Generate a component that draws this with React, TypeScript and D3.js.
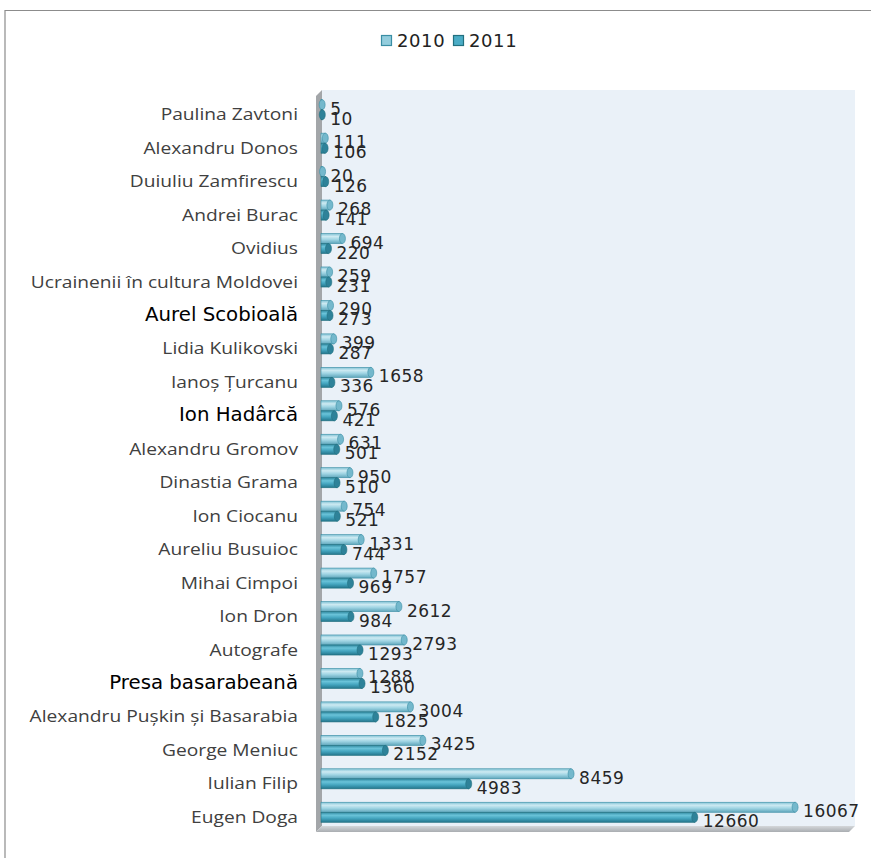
import React from 'react';
import * as d3 from 'd3';

const categories = [
  'Paulina Zavtoni', 'Alexandru Donos', 'Duiuliu Zamfirescu', 'Andrei Burac', 'Ovidius',
  'Ucrainenii în cultura Moldovei', 'Aurel Scobioală', 'Lidia Kulikovski', 'Ianoș Țurcanu',
  'Ion Hadârcă', 'Alexandru Gromov', 'Dinastia Grama', 'Ion Ciocanu', 'Aureliu Busuioc',
  'Mihai Cimpoi', 'Ion Dron', 'Autografe', 'Presa basarabeană', 'Alexandru Pușkin și Basarabia',
  'George Meniuc', 'Iulian Filip', 'Eugen Doga'
];
// labels that the original sheet shows in a different (heavier) font
const boldCategories = ['Aurel Scobioală', 'Ion Hadârcă', 'Presa basarabeană'];

const values2010 = [5, 111, 20, 268, 694, 259, 290, 399, 1658, 576, 631, 950, 754, 1331, 1757, 2612, 2793, 1288, 3004, 3425, 8459, 16067];
const values2011 = [10, 106, 126, 141, 220, 231, 273, 287, 336, 421, 501, 510, 521, 744, 969, 984, 1293, 1360, 1825, 2152, 4983, 12660];

const seriesNames = ['2010', '2011'];
const xMax = 18000;

const W = 871;
const H = 858;
const depth = 6;
const wall = { left: 322, right: 855, top: 90, bottom: 826 };

export default function App() {
  const x = d3.scaleLinear().domain([0, xMax]).range([wall.left, wall.right - depth / 2]);
  const y = d3.scaleBand<string>()
    .domain(categories)
    .range([wall.top + depth / 2, wall.bottom + depth / 2])
    .paddingInner(0.4)
    .paddingOuter(0.2);
  const barH = y.bandwidth() / 2;
  const series = [values2010, values2011];
  const grads = ['g2010', 'g2011'];
  const capFill = ['#74b8cc', '#2e8299'];
  const stroke = ['#3a8ea4', '#22707f'];

  return (
    <svg width={W} height={H} style={{ position: 'absolute', left: 0, top: 0, background: '#fff' }}>
      <defs>
        <linearGradient id="g2010" x1="0" y1="0" x2="0" y2="1">
          <stop offset="0" stopColor="#7fc1d4" />
          <stop offset="0.3" stopColor="#cdeaf2" />
          <stop offset="0.6" stopColor="#9fd4e3" />
          <stop offset="1" stopColor="#5fa6bb" />
        </linearGradient>
        <linearGradient id="g2011" x1="0" y1="0" x2="0" y2="1">
          <stop offset="0" stopColor="#318aa1" />
          <stop offset="0.3" stopColor="#6ac3d9" />
          <stop offset="0.6" stopColor="#45a6c0" />
          <stop offset="1" stopColor="#23758b" />
        </linearGradient>
        <linearGradient id="floor" x1="0" y1="0" x2="0" y2="1">
          <stop offset="0" stopColor="#d4d7da" />
          <stop offset="1" stopColor="#a9adb1" />
        </linearGradient>
      </defs>

      {/* outer frame */}
      <path d={`M5,${H}V10.5H${W}`} fill="none" stroke="#8c8c8c" strokeWidth={1.2} />

      {/* legend */}
      <g fontFamily="DejaVu Sans" fontSize={18} fill="#222" letterSpacing={0.6}>
        {seriesNames.map((s, i) => (
          <g key={s} transform={`translate(${381 + i * 72},35)`}>
            <rect x={0.5} y={0.5} width={10} height={10} fill={i === 0 ? '#93cddd' : '#4bacc6'} stroke={stroke[i]} strokeWidth={1.2} />
            <text x={16} y={12}>{s}</text>
          </g>
        ))}
      </g>

      {/* 3D walls */}
      <rect x={wall.left} y={wall.top} width={wall.right - wall.left} height={wall.bottom - wall.top} fill="#eaf1f8" />
      <polygon
        points={`${wall.left - depth},${wall.top + depth} ${wall.left},${wall.top} ${wall.left},${wall.bottom} ${wall.left - depth},${wall.bottom + depth}`}
        fill="#a3a6a9"
      />
      <polygon
        points={`${wall.left},${wall.bottom} ${wall.right},${wall.bottom} ${wall.right - depth},${wall.bottom + depth} ${wall.left - depth},${wall.bottom + depth}`}
        fill="url(#floor)"
      />

      {/* category labels */}
      <g textAnchor="end">
        {categories.map(c => {
          const bold = boldCategories.includes(c);
          const cy = (y(c) ?? 0) + y.bandwidth() / 2 + 4;
          return (
            <text
              key={c}
              transform={`translate(298,${cy}) scale(${bold ? 1.04 : 1.13},1)`}
              dominantBaseline="central"
              fontFamily={bold ? 'DejaVu Sans' : 'Open Sans'}
              fontSize={bold ? 19 : 17}
              fill={bold ? '#000' : '#404040'}
            >
              {c}
            </text>
          );
        })}
      </g>

      {/* bars as cylinders */}
      {series.map((vals, si) => (
        <g key={si}>
          {categories.map((c, ci) => {
            const y0 = (y(c) ?? 0) + si * barH;
            const x1 = x(vals[ci]);
            const w = Math.max(0, x1 - wall.left);
            return (
              <g key={c}>
                <rect x={wall.left - 1} y={y0} width={w + 1} height={barH} fill={`url(#${grads[si]})`} stroke={stroke[si]} strokeWidth={0.6} />
                <ellipse cx={x1} cy={y0 + barH / 2} rx={3} ry={barH / 2} fill={capFill[si]} stroke={stroke[si]} strokeWidth={0.6} />
              </g>
            );
          })}
        </g>
      ))}

      {/* value labels */}
      <g fontFamily="DejaVu Sans" fontSize={17} fill="#262626" letterSpacing={0.5}>
        {series.map((vals, si) =>
          categories.map((c, ci) => (
            <text
              key={`${si}-${c}`}
              x={x(vals[ci]) + 8}
              y={(y(c) ?? 0) + si * barH + barH / 2 + 4}
              dominantBaseline="central"
            >
              {vals[ci]}
            </text>
          ))
        )}
      </g>
    </svg>
  );
}
